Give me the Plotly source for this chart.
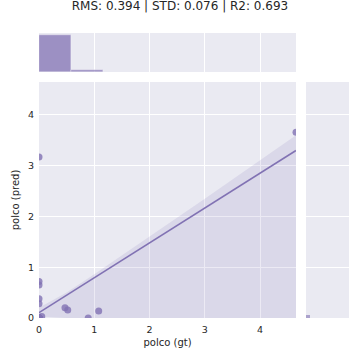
import numpy as np
import plotly.graph_objs as go

# points (gt, pred); many samples sit exactly at (0, 0)
gt = [0.0] * 28 + [0.0, 0.0, 0.0, 0.0, 0.0, 0.05, 0.47, 0.52, 0.89, 1.08, 4.65]
pred = [0.0] * 28 + [3.17, 0.72, 0.65, 0.38, 0.28, 0.03, 0.2, 0.16, 0.0, 0.14, 3.66]

# bootstrap confidence band as it appears in the picture
band_x = [0.0, 0.5, 1.0, 2.0, 3.0, 4.0, 4.65]
band_hi = [0.2, 0.5, 0.86, 1.6, 2.35, 3.11, 3.6]
band_lo = [0.03, 0.0, -0.1, -0.5, -1.0, -1.5, -2.0]

title = "RMS: 0.394 | STD: 0.076 | R2: 0.693"
x_label = "polco (gt)"
y_label = "polco (pred)"
lim = 4.65

PURPLE = "#8172B3"
BG = "#EAEAF2"
TXT = "#262626"

slope, intercept = np.polyfit(gt, pred, 1)
fit_x = np.linspace(0, lim, 50)
fit_y = intercept + slope * fit_x

fig = go.Figure()

fig.add_trace(go.Scatter(
    x=band_x + band_x[::-1],
    y=band_hi + band_lo[::-1],
    fill="toself",
    fillcolor="rgba(129,114,179,0.15)",
    line=dict(width=0),
    mode="lines",
    hoverinfo="skip",
    showlegend=False,
))
fig.add_trace(go.Scatter(
    x=gt, y=pred, mode="markers",
    marker=dict(size=7, color=PURPLE, opacity=0.8, line=dict(width=0)),
    showlegend=False,
))
fig.add_trace(go.Scatter(
    x=fit_x, y=fit_y, mode="lines",
    line=dict(color=PURPLE, width=1.6),
    showlegend=False,
))

# marginal histograms
fig.add_trace(go.Histogram(
    x=gt, xaxis="x2", yaxis="y2",
    xbins=dict(start=0, end=lim, size=lim / 8),
    marker=dict(color="rgba(129,114,179,0.75)", line=dict(color="white", width=0.3)),
    showlegend=False,
))
fig.add_trace(go.Histogram(
    y=pred, xaxis="x3", yaxis="y3",
    ybins=dict(start=0, end=lim, size=0.05),
    marker=dict(color="rgba(129,114,179,0.6)", line=dict(width=0)),
    showlegend=False,
))

tickfont = dict(family="DejaVu Sans", size=9.5, color=TXT)
labelfont = dict(family="DejaVu Sans", size=10, color=TXT)
common = dict(showgrid=True, gridcolor="white", gridwidth=1, zeroline=False,
              showline=False, ticks="", automargin=False)
hidden = dict(showgrid=False, zeroline=False, showticklabels=False, ticks="", automargin=False)

fig.update_layout(
    width=360, height=360,
    margin=dict(l=0, r=0, t=0, b=0),
    paper_bgcolor="white",
    plot_bgcolor=BG,
    bargap=0,
    title=dict(text=title, x=0.5, xanchor="center", y=1 - 6 / 360, yanchor="middle",
               font=dict(family="DejaVu Sans", size=12, color=TXT), automargin=False),
    xaxis=dict(domain=[39 / 360, 296 / 360], range=[0, lim], tickvals=[0, 1, 2, 3, 4],
               tickfont=tickfont, ticklabelstandoff=4,
               title=dict(text=x_label, font=labelfont, standoff=5), **common),
    yaxis=dict(domain=[1 - 318 / 360, 1 - 82 / 360], range=[0, lim], tickvals=[0, 1, 2, 3, 4],
               tickfont=tickfont, ticklabelstandoff=4,
               title=dict(text=y_label, font=labelfont, standoff=6), **common),
    xaxis2=dict(domain=[39 / 360, 296 / 360], range=[0, lim], anchor="y2", matches="x",
                tickvals=[1, 2, 3, 4], showticklabels=False, **common),
    yaxis2=dict(domain=[1 - 72 / 360, 1 - 33 / 360], range=[0, 38], anchor="x2", **hidden),
    xaxis3=dict(domain=[306 / 360, 349 / 360], range=[0, 300], anchor="y3", **hidden),
    yaxis3=dict(domain=[1 - 318 / 360, 1 - 82 / 360], range=[0, lim], anchor="x3",
                tickvals=[0, 1, 2, 3, 4], showticklabels=False, **common),
)

# the page body has a default 8px margin; drop it so the figure sits at the corner
fig.write_html("out.html", config={"displayModeBar": False},
               post_script="document.body.style.margin='0';")
